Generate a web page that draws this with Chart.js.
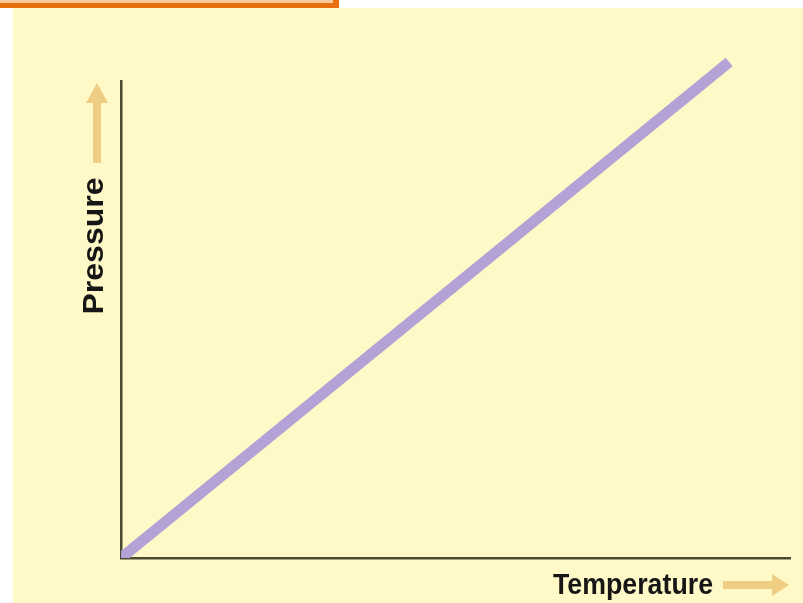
<!DOCTYPE html>
<html>
<head>
<meta charset="utf-8">
<script src="https://cdn.jsdelivr.net/npm/chart.js@4.4.0/dist/chart.umd.min.js"></script>
<style>
  html, body { margin: 0; padding: 0; background: #ffffff; }
  #wrap { position: relative; width: 803px; height: 603px; }
</style>
</head>
<body>
<div id="wrap">
  <canvas id="chart_pt"></canvas>
</div>

<script>
// values (arbitrary units)
const temperature = [0, 100];
const pressure    = [0, 104];
const xLabel = 'Temperature';
const yLabel = 'Pressure';

const ctx_pt = document.getElementById('chart_pt');

const points = [];
for ( var i = 0; i < temperature.length; i++ ) {
  points.push({ x: temperature[i], y: pressure[i] });
}

// cream card + orange strip on top
const backdrop = {
  id: 'backdrop',
  beforeDraw: function ( chart ) {
    const c = chart.ctx;
    c.save();
    c.fillStyle = '#ffffff';
    c.fillRect(0, 0, chart.width, chart.height);
    c.fillStyle = '#fbc99c';
    c.fillRect(0, 0, 334, 3);
    c.fillStyle = '#e8700f';
    c.fillRect(0, 3, 339, 5);
    c.fillRect(333, 0, 6, 8);
    c.fillStyle = '#fef9c6';
    c.fillRect(13, 8, chart.width - 13, chart.height - 8);
    c.restore();
  }
};

function fitText ( c, text, w ) {
  const m = c.measureText(text).width;
  c.scale(w / m, 1);
  c.fillText(text, -m / 2, 0);
}

// axis names with the little arrows
const axisNames = {
  id: 'axisNames',
  afterDraw: function ( chart ) {
    const c = chart.ctx;
    c.save();
    c.fillStyle = '#efcd82';
    // up arrow
    c.fillRect(93, 100, 8, 63);
    c.beginPath();
    c.moveTo(86, 103); c.lineTo(108, 103); c.lineTo(97, 83);
    c.closePath(); c.fill();
    // right arrow
    c.fillRect(723, 581, 51, 8);
    c.beginPath();
    c.moveTo(772, 574); c.lineTo(772, 596); c.lineTo(789, 585);
    c.closePath(); c.fill();

    c.fillStyle = '#161616';
    c.font = 'bold 30px "Liberation Sans", Arial, sans-serif';
    c.textBaseline = 'alphabetic';
    c.save();
    c.translate(633, 594);
    fitText(c, xLabel, 160);
    c.restore();
    c.save();
    c.translate(103, 246);
    c.rotate(-Math.PI / 2);
    fitText(c, yLabel, 137);
    c.restore();
    c.restore();
  }
};

const configPT = {
  type: 'line',
  data: {
    datasets: [{
      data: points,
      fill: false,
      borderColor: '#b4a2d6',
      borderWidth: 11,
      borderCapStyle: 'butt',
      pointRadius: 0,
      clip: { left: 0, bottom: 0, top: false, right: false },
      tension: 0
    }]
  },
  options: {
    responsive: false,
    animation: false,
    layout: { padding: { left: 113, top: 81, right: 13, bottom: 37 } },
    plugins: {
      legend: { display: false },
      tooltip: { enabled: false }
    },
    scales: {
      x: {
        type: 'linear', min: 0, max: 110,
        ticks: { display: false },
        grid: { display: false },
        border: { display: true, color: '#4a4a34', width: 2.5 }
      },
      y: {
        type: 'linear', min: 0, max: 100,
        ticks: { display: false },
        grid: { display: false },
        border: { display: true, color: '#4a4a34', width: 2.5 }
      }
    }
  },
  plugins: [backdrop, axisNames]
};

ctx_pt.width = 803;
ctx_pt.height = 603;
const chartPT = new Chart(ctx_pt, configPT);
</script>
</body>
</html>
